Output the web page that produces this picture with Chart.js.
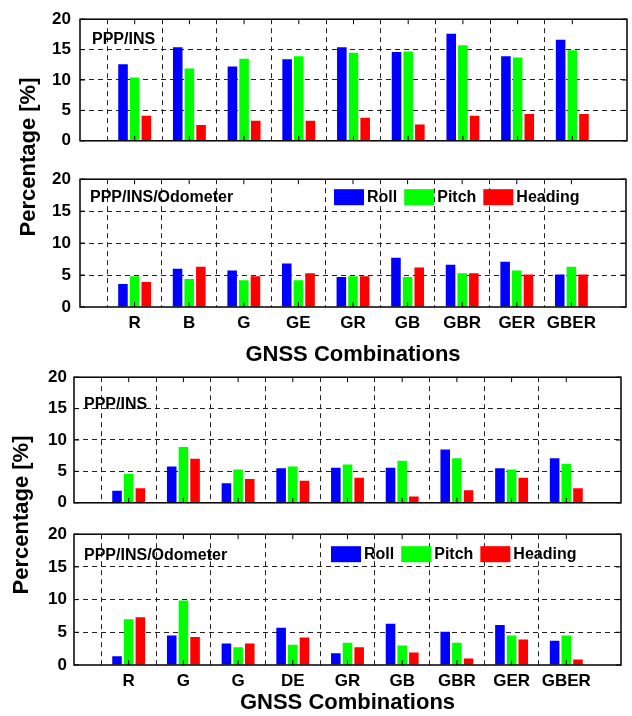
<!DOCTYPE html>
<html>
<head>
<meta charset="utf-8">
<title>Attitude error percentages by GNSS combination</title>
<script src="https://cdn.jsdelivr.net/npm/chart.js"></script>
<style>
    body { margin:0; background:#fff; width:632px; height:716px; position:relative; overflow:hidden;
           font-family:"Liberation Sans", Arial, sans-serif; }
    canvas { position:absolute; left:0; }
    .ytitle { position:absolute; font-weight:bold; font-size:22px; white-space:nowrap; color:#000;
              transform:translate(-50%, -50%) rotate(-90deg); }
</style>
</head>
<body>
<canvas id="c1" width="632" height="160" style="top:0px"></canvas>
<canvas id="c2" width="632" height="208" style="top:160px"></canvas>
<canvas id="c3" width="632" height="160" style="top:360px"></canvas>
<canvas id="c4" width="632" height="199" style="top:517px"></canvas>
<div class="ytitle" style="left:28px; top:157px">Percentage [%]</div>
<div class="ytitle" style="left:21px; top:515px">Percentage [%]</div>

<script>
    // series names
    const seriesNames = ["Roll", "Pitch", "Heading"];

    // x categories (upper and lower figure)
    const combosUpper = ["R", "B", "G", "GE", "GR", "GB", "GBR", "GER", "GBER"];
    const combosLower = ["R", "G", "G", "DE", "GR", "GB", "GBR", "GER", "GBER"];
    const yTickValues = [0, 5, 10, 15, 20];

    // upper figure, PPP/INS
    const upperInsRoll    = [12.6, 15.4, 12.2, 13.4, 15.4, 14.6, 17.6, 13.9, 16.6];
    const upperInsPitch   = [10.4, 11.9, 13.5, 13.9, 14.5, 14.7, 15.7, 13.7, 14.9];
    const upperInsHeading = [4.1, 2.6, 3.3, 3.3, 3.8, 2.7, 4.1, 4.4, 4.4];

    // upper figure, PPP/INS/Odometer
    const upperOdoRoll    = [3.6, 6.0, 5.7, 6.8, 4.7, 7.7, 6.6, 7.1, 5.1];
    const upperOdoPitch   = [4.8, 4.4, 4.2, 4.2, 4.8, 4.7, 5.3, 5.7, 6.3];
    const upperOdoHeading = [3.9, 6.3, 4.8, 5.3, 4.8, 6.2, 5.3, 5.1, 5.1];

    // lower figure, PPP/INS
    const lowerInsRoll    = [1.9, 5.8, 3.1, 5.5, 5.6, 5.6, 8.5, 5.5, 7.1];
    const lowerInsPitch   = [4.6, 8.9, 5.3, 5.8, 6.1, 6.7, 7.1, 5.3, 6.2];
    const lowerInsHeading = [2.3, 7.0, 3.8, 3.5, 4.0, 1.0, 2.0, 4.0, 2.3];

    // lower figure, PPP/INS/Odometer
    const lowerOdoRoll    = [1.35, 4.5, 3.3, 5.7, 1.8, 6.3, 5.1, 6.1, 3.7];
    const lowerOdoPitch   = [7.0, 9.85, 2.7, 3.1, 3.4, 3.0, 3.4, 4.5, 4.5];
    const lowerOdoHeading = [7.3, 4.3, 3.3, 4.2, 2.7, 1.9, 1.0, 3.9, 0.85];

    const barColors = ["#0000ff", "#00ff00", "#ff0000"];
    const FONT = '"Liberation Sans", Arial, sans-serif';

    // frame, inward ticks, panel label and legend drawn in the plot area
    function decoPlugin(p) {
        return {
            id: "deco",
            afterDatasetsDraw(chart) {
                const ctx = chart.ctx;
                const { left, right, top, bottom } = chart.chartArea;
                ctx.save();
                ctx.setLineDash([]);
                ctx.strokeStyle = "#000";
                ctx.lineWidth = 1.5;
                ctx.strokeRect(left, top, right - left, bottom - top);
                ctx.lineWidth = 1;
                ctx.beginPath();
                yTickValues.forEach(v => {
                    const py = chart.scales.y.getPixelForValue(v);
                    ctx.moveTo(left, py); ctx.lineTo(left + 5, py);
                    ctx.moveTo(right, py); ctx.lineTo(right - 5, py);
                });
                for (let i = 1; i <= p.cats.length; i++) {
                    const px = chart.scales.x.getPixelForValue(i);
                    ctx.moveTo(px, top); ctx.lineTo(px, top + 5);
                    ctx.moveTo(px, bottom); ctx.lineTo(px, bottom - 5);
                }
                ctx.stroke();

                ctx.fillStyle = "#000";
                ctx.font = "bold 16px " + FONT;
                ctx.textBaseline = "middle";
                ctx.textAlign = "left";
                ctx.fillText(p.label, left + p.labelDx, top + p.labelDy);

                if (p.legend) {
                    let x = left + p.legendDx;
                    const y = top + p.legendDy;
                    chart.data.datasets.forEach(ds => {
                        ctx.fillStyle = ds.backgroundColor;
                        ctx.fillRect(x, y, 30, 16);
                        ctx.fillStyle = "#000";
                        ctx.fillText(ds.label, x + 33, y + 8.5);
                        x += 33 + ctx.measureText(ds.label).width + 7;
                    });
                }
                ctx.restore();
            }
        };
    }

    function makePanel(p) {
        const canvas = document.getElementById(p.id);
        const canvasTop = p.canvasTop, canvasBottom = p.canvasTop + canvas.height;
        const labels = ["", ...p.cats, ""];
        const pad = arr => [null, ...arr, null];
        const datasets = p.values.map((vals, k) => ({
            label: seriesNames[k],
            data: pad(vals),
            backgroundColor: barColors[k],
            borderWidth: 0,
            categoryPercentage: 0.64,
            barPercentage: 0.82
        }));
        return new Chart(canvas, {
            type: "bar",
            data: { labels: labels, datasets: datasets },
            options: {
                responsive: false,
                animation: false,
                layout: { padding: { top: p.area.top - canvasTop, right: 632 - p.area.right, bottom: 0, left: 0 } },
                plugins: { legend: { display: false }, tooltip: { enabled: false } },
                scales: {
                    x: {
                        offset: false,
                        afterFit: s => { s.height = canvasBottom - p.area.bottom; },
                        grid: {
                            drawTicks: false,
                            color: c => (c.index === 0 || c.index === labels.length - 1) ? "rgba(0,0,0,0)" : "#222",
                            lineWidth: 1
                        },
                        border: { display: false, dash: [5, 4] },
                        ticks: {
                            display: p.showLabels,
                            autoSkip: false, maxRotation: 0, padding: 6,
                            color: "#000",
                            font: { family: FONT, size: 17, weight: "bold" }
                        },
                        title: {
                            display: p.showLabels,
                            text: "GNSS Combinations",
                            color: "#000",
                            padding: { top: 0, bottom: 0 },
                            font: { family: FONT, size: 22, weight: "bold", lineHeight: 1.2 }
                        }
                    },
                    y: {
                        min: 0, max: 20,
                        afterFit: s => { s.width = p.area.left; },
                        grid: {
                            drawTicks: false,
                            color: c => (c.tick.value === 0 || c.tick.value === 20) ? "rgba(0,0,0,0)" : "#222",
                            lineWidth: 1
                        },
                        border: { display: false, dash: [5, 4] },
                        ticks: {
                            stepSize: 5, padding: p.yPad, color: "#000",
                            font: { family: FONT, size: 17, weight: "bold" }
                        }
                    }
                }
            },
            plugins: [decoPlugin(p)]
        });
    }

    makePanel({ id: "c1", canvasTop: 0, area: { left: 80, right: 627, top: 14, bottom: 147 },
        cats: combosUpper, values: [upperInsRoll, upperInsPitch, upperInsHeading],
        showLabels: false, yPad: 9, label: "PPP/INS", labelDx: 12, labelDy: 20, legend: false });

    makePanel({ id: "c2", canvasTop: 160, area: { left: 80, right: 627, top: 174, bottom: 307 },
        cats: combosUpper, values: [upperOdoRoll, upperOdoPitch, upperOdoHeading],
        showLabels: true, yPad: 9, label: "PPP/INS/Odometer", labelDx: 10, labelDy: 18,
        legend: true, legendDx: 254, legendDy: 10 });

    makePanel({ id: "c3", canvasTop: 360, area: { left: 74, right: 621, top: 376, bottom: 509 },
        cats: combosLower, values: [lowerInsRoll, lowerInsPitch, lowerInsHeading],
        showLabels: false, yPad: 7, label: "PPP/INS", labelDx: 10, labelDy: 27, legend: false });

    makePanel({ id: "c4", canvasTop: 517, area: { left: 74, right: 621, top: 531, bottom: 665 },
        cats: combosLower, values: [lowerOdoRoll, lowerOdoPitch, lowerOdoHeading],
        showLabels: true, yPad: 7, label: "PPP/INS/Odometer", labelDx: 10, labelDy: 21,
        legend: true, legendDx: 257, legendDy: 12 });
</script>
</body>
</html>
